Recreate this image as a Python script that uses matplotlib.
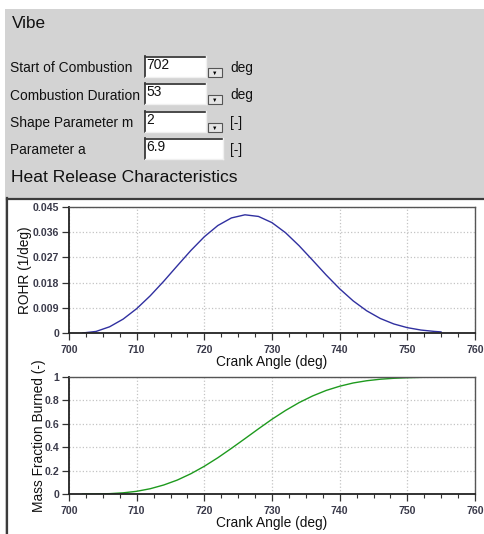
import matplotlib
matplotlib.use("Agg")
import matplotlib.pyplot as plt
from matplotlib.patches import Rectangle
from matplotlib.ticker import MultipleLocator

plt.rcParams['font.family'] = ['Liberation Sans', 'DejaVu Sans']

# ---- data ----
crank_angle = [702, 704, 706, 708, 710, 712, 714, 716, 718, 720, 722, 724, 726,
               728, 730, 732, 734, 736, 738, 740, 742, 744, 746, 748, 750, 752,
               754, 755, 755]
rohr = [0.0, 0.00056, 0.00222, 0.00496, 0.00869, 0.01328, 0.01848, 0.0240,
        0.02944, 0.03438, 0.03839, 0.04109, 0.04221, 0.04163, 0.03941, 0.03581,
        0.03118, 0.0260, 0.02073, 0.01579, 0.01146, 0.00792, 0.00519, 0.00323,
        0.00191, 0.00106, 0.00056, 0.00039, 0.0]
mfb = [0.0, 0.0004, 0.003, 0.010, 0.023, 0.045, 0.077, 0.119, 0.173, 0.237,
       0.310, 0.390, 0.473, 0.557, 0.639, 0.714, 0.781, 0.838, 0.885, 0.921,
       0.949, 0.968, 0.981, 0.989, 0.994, 0.997, 0.999, 0.999, 0.999]

x_ticks = [700, 710, 720, 730, 740, 750, 760]
rohr_ticks = [0, 0.009, 0.018, 0.027, 0.036, 0.045]
rohr_tick_labels = ['0', '0.009', '0.018', '0.027', '0.036', '0.045']
mfb_ticks = [0, 0.2, 0.4, 0.6, 0.8, 1.0]
mfb_tick_labels = ['0', '0.2', '0.4', '0.6', '0.8', '1']

param_labels = ['Start of Combustion', 'Combustion Duration', 'Shape Parameter m', 'Parameter a']
param_values = ['702', '53', '2', '6.9']
param_units = ['deg', 'deg', '[-]', '[-]']
param_dropdown = [True, True, True, False]

W, H = 485, 534
fig = plt.figure(figsize=(W / 100, H / 100), dpi=100)
fig.patch.set_facecolor('white')

def fx(x):
    return x / W

def fy(y):
    return 1 - y / H

def rect(x0, y0, x1, y1, z=-10, **kw):
    fig.add_artist(Rectangle((fx(x0), fy(y1)), fx(x1) - fx(x0), fy(y0) - fy(y1),
                             transform=fig.transFigure, zorder=z, **kw))

def line(x0, y0, x1, y1, z=-5, **kw):
    fig.add_artist(plt.Line2D([fx(x0), fx(x1)], [fy(y0), fy(y1)],
                              transform=fig.transFigure, zorder=z, **kw))

FS = 9.9

# gray panel
rect(5, 9, 485, 534, facecolor='#d3d3d3', edgecolor='none', z=-20)
# chart white box
rect(8, 199, 485, 534, facecolor='white', edgecolor='none', z=-15)
line(7, 198.5, 485, 198.5, color='#3c3c3c', lw=1.6)
line(7.5, 198, 7.5, 534, color='#3c3c3c', lw=1.6)

fig.text(fx(12), fy(24), 'Vibe', fontsize=12.3, va='center', ha='left', color='#111111')
fig.text(fx(11), fy(178), 'Heat Release Characteristics', fontsize=12.6,
         va='center', ha='left', color='#111111')

rows_y = [68, 95.5, 123, 150]
box_tops = [56, 83, 111, 138]
for i, (lab, val, unit, dd) in enumerate(zip(param_labels, param_values, param_units, param_dropdown)):
    yc = rows_y[i]
    fig.text(fx(10), fy(yc), lab, fontsize=FS, va='center', ha='left', color='#111111')
    x1 = 206 if dd else 223
    y0 = box_tops[i]
    y1 = y0 + 21
    rect(145, y0, x1, y1, facecolor='white', edgecolor='none', z=-8)
    line(145, y0 + 0.5, x1, y0 + 0.5, color='#3a3a3a', lw=1.3)
    line(145.5, y0, 145.5, y1, color='#3a3a3a', lw=1.3)
    line(145, y1, x1, y1, color='#f0f0f0', lw=1.0)
    line(x1, y0, x1, y1, color='#f0f0f0', lw=1.0)
    fig.text(fx(146.5), fy(y0 + 9), val, fontsize=FS, va='center', ha='left', color='#111111')
    if dd:
        rect(208, y0 + 12, 222, y0 + 21, facecolor='#e4e4e4', edgecolor='#555555', lw=0.8, z=-7)
        fig.text(fx(215), fy(y0 + 17), '\u25bc', fontsize=4, va='center', ha='center', color='black')
    fig.text(fx(230), fy(yc), unit, fontsize=FS, va='center', ha='left', color='#111111')


def make_axes(top, bottom):
    ax = fig.add_axes([fx(69), fy(bottom), fx(475) - fx(69), fy(top) - fy(bottom)])
    ax.set_zorder(5)
    ax.set_xlim(700, 760)
    ax.set_xticks(x_ticks)
    ax.xaxis.set_minor_locator(MultipleLocator(2.5))
    ax.grid(True, which='major', color='#c4c4c4', linestyle=':', linewidth=0.9)
    for s in ax.spines.values():
        s.set_color('#555555')
        s.set_linewidth(1.0)
    ax.spines['left'].set_color('#222222')
    ax.spines['bottom'].set_color('#222222')
    ax.spines['left'].set_linewidth(1.3)
    ax.spines['bottom'].set_linewidth(1.3)
    ax.tick_params(axis='both', which='major', labelsize=7.6, labelcolor='#3a3a4a',
                   length=5, width=0.9, color='#333333', pad=2)
    ax.tick_params(axis='x', which='minor', length=3, width=0.8, color='#333333')
    ax.tick_params(axis='x', which='major', pad=3.5)
    ax.set_xlabel('Crank Angle (deg)', fontsize=FS, color='#111111', labelpad=0)
    return ax

ax1 = make_axes(207, 333)
ax1.plot(crank_angle, rohr, color='#3030a0', lw=1.0)
ax1.set_ylim(0, 0.045)
ax1.set_yticks(rohr_ticks)
ax1.set_yticklabels(rohr_tick_labels)
ax1.set_ylabel('ROHR (1/deg)', fontsize=FS, color='#111111', labelpad=0.5)

ax2 = make_axes(377, 494)
ax2.plot(crank_angle, mfb, color='#1e9a1e', lw=1.0)
ax2.set_ylim(0, 1)
ax2.set_yticks(mfb_ticks)
ax2.set_yticklabels(mfb_tick_labels)
ax2.set_ylabel('Mass Fraction Burned (-)', fontsize=FS, color='#111111', labelpad=-1)

for ax in (ax1, ax2):
    for lbl in ax.get_xticklabels() + ax.get_yticklabels():
        lbl.set_fontweight('bold')

fig.savefig('out.png', dpi=100)
